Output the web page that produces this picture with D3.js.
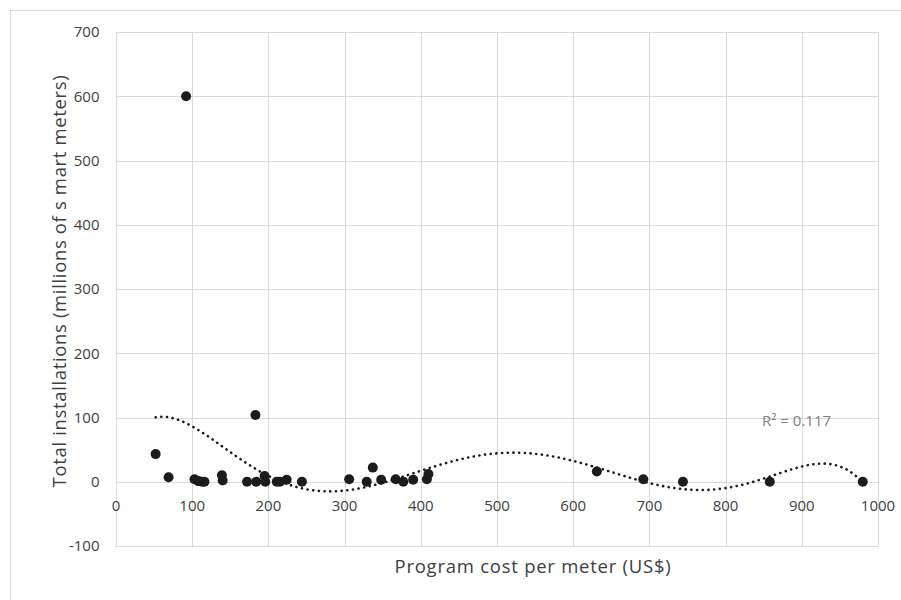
<!DOCTYPE html>
<html>
<head>
<meta charset="utf-8">
<script src="https://cdn.jsdelivr.net/npm/d3@7"></script>
<style>
  body { margin: 0; background: #fff; }
  svg { display: block; }
  text { font-family: "Open Sans", "Noto Sans", sans-serif; fill: #404040; }
</style>
</head>
<body>
<svg id="chart" width="901" height="600"></svg>
<script>
// Program cost per meter (US$) for each smart-meter program
const costPerMeter = [
  52, 69, 92, 103, 108, 113, 116, 139, 140, 172, 183, 184, 195, 196, 211, 215, 224, 244,
  306, 329, 337, 348, 367, 377, 390, 408, 410,
  631, 692, 744, 858, 980
];
// Total installations (millions of smart meters)
const installations = [
  43, 7, 600, 4, 1, 0, 0, 10, 2, 0, 104, 0, 9, 0, 0, 0, 3, 0,
  4, 0, 22, 3, 4, 0, 3, 4, 12,
  16, 4, 0, 0, 0
];
const xTicks = [0, 100, 200, 300, 400, 500, 600, 700, 800, 900, 1000];
const yTicks = [-100, 0, 100, 200, 300, 400, 500, 600, 700];
const trendOrder = 6;
const rSquared = 0.117;

const svg = d3.select("#chart");
const plot = { left: 116, right: 878, top: 32, bottom: 546 };

const x = d3.scaleLinear().domain([0, 1000]).range([plot.left, plot.right]);
const y = d3.scaleLinear().domain([-100, 700]).range([plot.bottom, plot.top]);

// chart frame
svg.append("rect")
  .attr("x", 10.5).attr("y", 10.5).attr("width", 1000).attr("height", 1000)
  .attr("fill", "none").attr("stroke", "#d9d9d9");

// gridlines
svg.append("g").selectAll("line").data(yTicks).join("line")
  .attr("x1", plot.left).attr("x2", plot.right)
  .attr("y1", d => Math.round(y(d)) + 0.5).attr("y2", d => Math.round(y(d)) + 0.5)
  .attr("stroke", "#d9d9d9").attr("stroke-width", 1);
svg.append("g").selectAll("line").data(xTicks).join("line")
  .attr("y1", plot.top).attr("y2", plot.bottom)
  .attr("x1", d => Math.round(x(d)) + 0.5).attr("x2", d => Math.round(x(d)) + 0.5)
  .attr("stroke", "#d9d9d9").attr("stroke-width", 1);

// y tick labels
svg.append("g").selectAll("text").data(yTicks).join("text")
  .attr("x", 99.5).attr("y", d => y(d) + 5.3)
  .attr("text-anchor", "end").attr("font-size", 15)
  .text(d => d);

// x tick labels sit under the zero line
svg.append("g").selectAll("text").data(xTicks).join("text")
  .attr("x", d => x(d)).attr("y", 510.5)
  .attr("text-anchor", "middle").attr("font-size", 15)
  .text(d => d);

// axis titles
svg.append("text")
  .attr("x", 533).attr("y", 573)
  .attr("text-anchor", "middle").attr("font-size", 18.5)
  .attr("letter-spacing", 0.75)
  .text("Program cost per meter (US$)");
svg.append("text")
  .attr("transform", "translate(66, 281) rotate(-90)")
  .attr("text-anchor", "middle").attr("font-size", 18.5)
  .attr("letter-spacing", 0.65)
  .text("Total installations (millions of s mart meters)");

// polynomial least-squares trend (order 6) on normalised cost
const pts = costPerMeter.map((c, i) => [c, installations[i]]);
const norm = c => (c - 500) / 500;
function polyFit(data, order) {
  const n = order + 1;
  const A = Array.from({ length: n }, () => new Array(n + 1).fill(0));
  data.forEach(([cx, cy]) => {
    const u = norm(cx);
    const pw = [];
    for (let k = 0; k < 2 * n; k++) pw.push(Math.pow(u, k));
    for (let r = 0; r < n; r++) {
      for (let c = 0; c < n; c++) A[r][c] += pw[r + c];
      A[r][n] += cy * pw[r];
    }
  });
  for (let i = 0; i < n; i++) {
    let p = i;
    for (let r = i + 1; r < n; r++) if (Math.abs(A[r][i]) > Math.abs(A[p][i])) p = r;
    [A[i], A[p]] = [A[p], A[i]];
    for (let r = 0; r < n; r++) {
      if (r === i) continue;
      const f = A[r][i] / A[i][i];
      for (let c = i; c <= n; c++) A[r][c] -= f * A[i][c];
    }
  }
  return A.map((row, i) => row[n] / row[i]);
}
const coef = polyFit(pts, trendOrder);
const evalPoly = c => coef.reduce((s, a, k) => s + a * Math.pow(norm(c), k), 0);
const xs = d3.extent(costPerMeter);
const trend = d3.range(xs[0], xs[1] + 0.5, 2).map(c => [c, evalPoly(c)]);

svg.append("path")
  .datum(trend)
  .attr("d", d3.line().x(d => x(d[0])).y(d => y(d[1])))
  .attr("fill", "none").attr("stroke", "#1a1a1a")
  .attr("stroke-width", 2.6).attr("stroke-linecap", "round")
  .attr("stroke-dasharray", "0.1 5.6");

// data points
svg.append("g").selectAll("circle").data(pts).join("circle")
  .attr("cx", d => x(d[0])).attr("cy", d => y(d[1]))
  .attr("r", 5).attr("fill", "#1d1b1c");

svg.append("text")
  .attr("x", 762).attr("y", 426)
  .attr("font-size", 15).style("fill", "#808080")
  .text("R² = " + rSquared.toFixed(3));
</script>
</body>
</html>
